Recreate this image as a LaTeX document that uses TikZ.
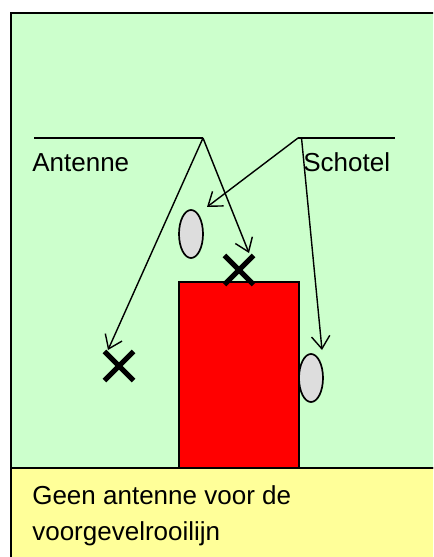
\documentclass[tikz,border=0pt]{standalone}
\usepackage{fontspec}
\setmainfont{Liberation Sans}
\usetikzlibrary{arrows.meta,shapes.geometric,shapes.misc}
\definecolor{lawn}{HTML}{CCFFCC}
\definecolor{note}{HTML}{FFFF99}
\definecolor{dishgray}{HTML}{DDDDDD}

\begin{document}
\begin{tikzpicture}[x=0.025cm,y=-0.025cm,
  ray/.style={line width=1pt,-{Straight Barb[length=9pt,width=13pt]}},
  kruis/.style={cross out,draw,line width=3.6pt,inner sep=0pt,minimum size=0.6cm},
  schotel/.style={ellipse,draw,fill=dishgray,line width=1.2pt,minimum width=0.6cm,minimum height=1.2cm,inner sep=0pt},
  lbl/.style={font=\fontsize{18.5}{25.6}\selectfont,inner sep=0pt}]
\useasboundingbox (0,0) rectangle (433,557);
\clip (0,0) rectangle (433,557);
% achtergrond
\draw[fill=lawn,line width=1.8pt] (11,13) rectangle (460,468);
\node (gevel) [draw,fill=red,line width=1.5pt,inner sep=0pt,
  minimum width=3cm,minimum height=4.65cm] at (239,375) {};
\draw[fill=note,line width=1.8pt] (11,468) rectangle (460,580);
% antenne en schotel
\coordinate (ant) at (203,138);
\coordinate (antL) at (34,138);
\coordinate (sch) at (298,138);
\coordinate (schR) at (395,138);
\draw[line width=1pt] (antL) -- (ant);
\draw[line width=1pt] (sch) -- (schR);
\node[lbl,anchor=base west] (antlbl) at (32,172) {Antenne};
\node[lbl,anchor=base west] (schlbl) at (303,172) {Schotel};
% posities
\node[schotel] (dish1) at (191,234) {};
\node[schotel] (dish2) at (311,378) {};
\node[kruis] (kruis1) at (119,366) {};
\node[kruis] (kruis2) at (239,270) {};
% pijlen
\coordinate (p1) at (108,350);
\coordinate (p2) at (249,253);
\coordinate (p3) at (207,207);
\coordinate (p4) at (322,350);
\draw[ray] (ant) -- (p1);
\draw[ray] (ant) -- (p2);
\draw[ray] (sch) -- (p3);
\draw[ray] ([xshift=2.5]sch) -- (p4);
% tekst
\node[lbl,anchor=north west,align=left] (tekst) at (32,485)
  {Geen antenne voor de\\voorgevelrooilijn};
\end{tikzpicture}
\end{document}
